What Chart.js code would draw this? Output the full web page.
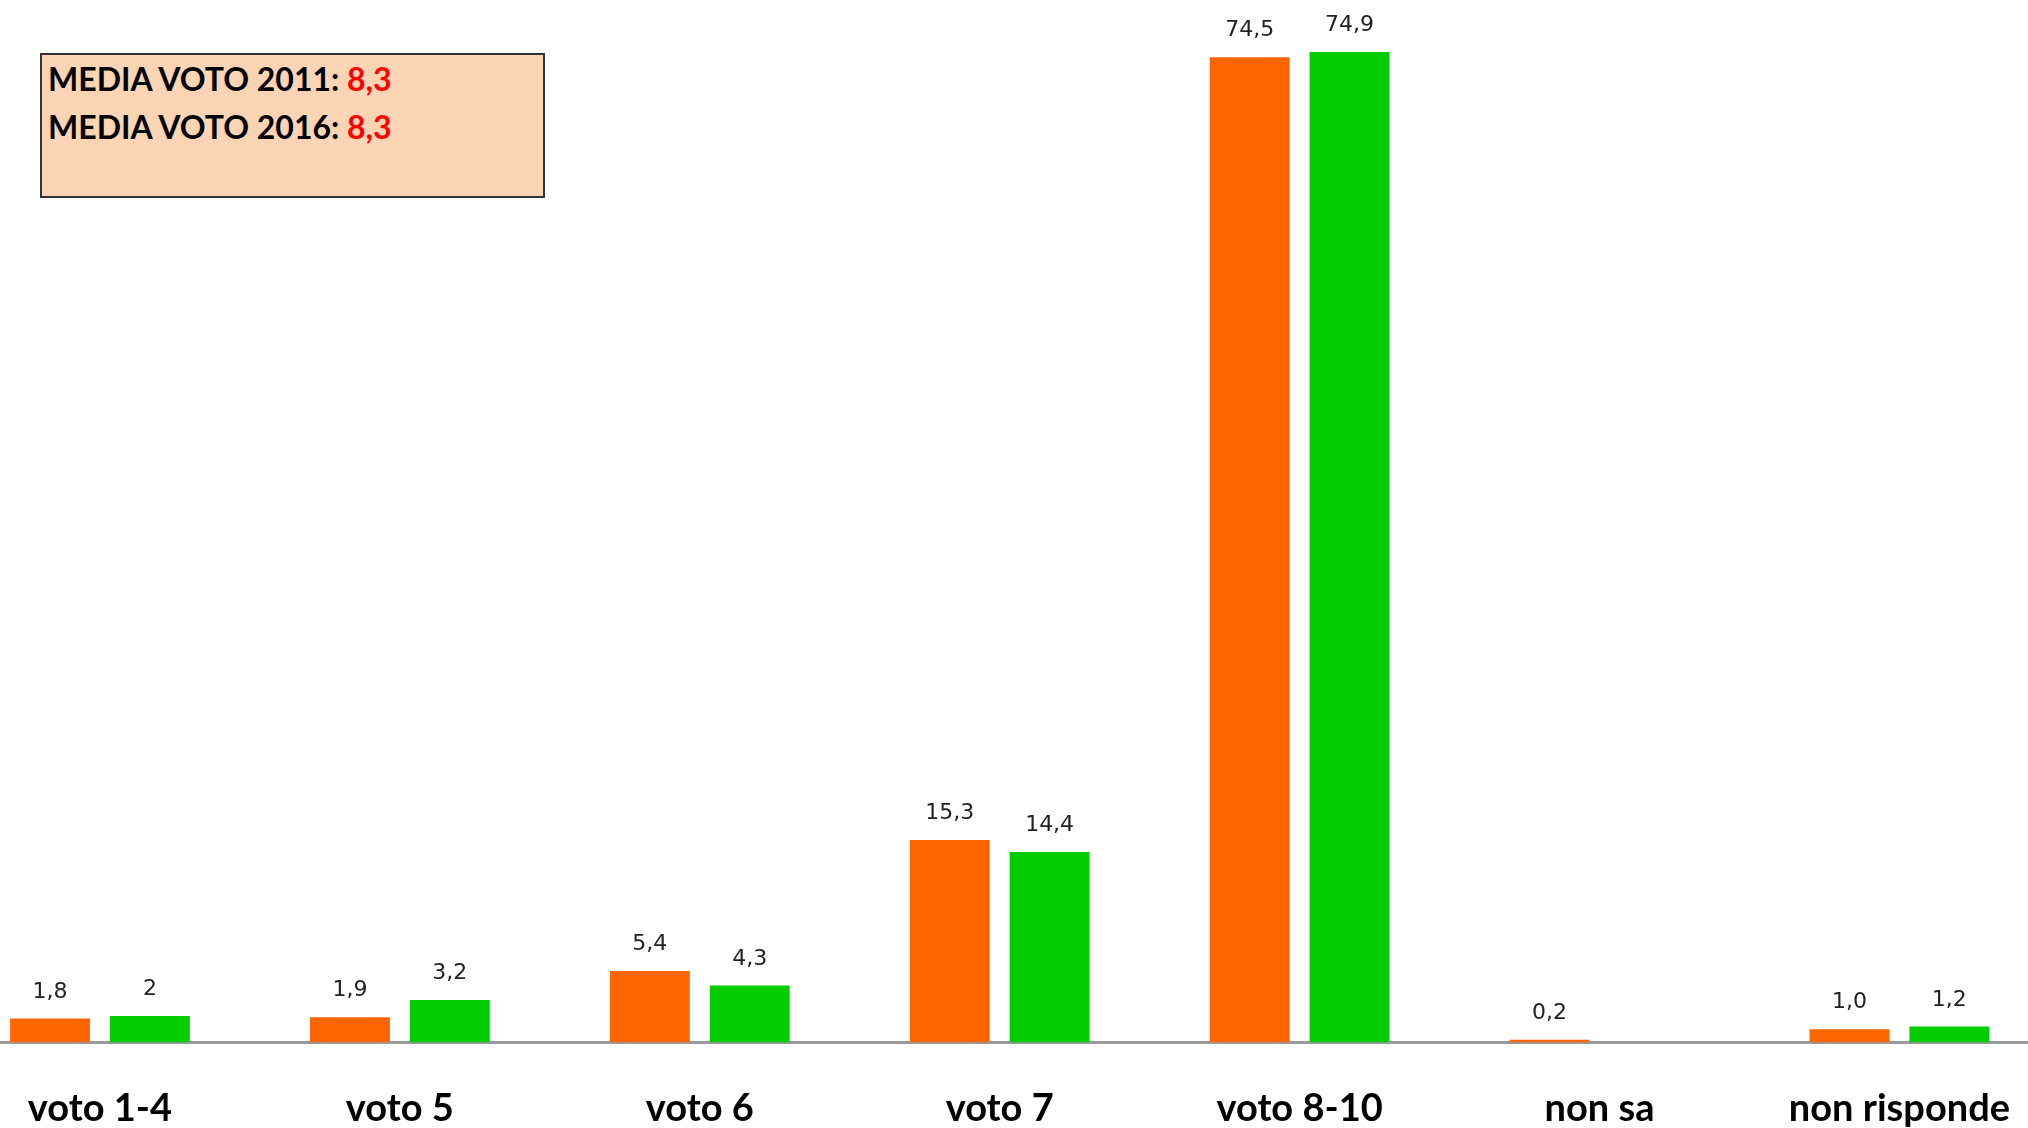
<!DOCTYPE html>
<html>
<head>
<meta charset="utf-8">
<script src="https://cdn.jsdelivr.net/npm/chart.js@4.4.1/dist/chart.umd.min.js"></script>
<style>
  html, body { margin: 0; padding: 0; background: #fff; overflow: hidden; }
  body { width: 2028px; height: 1128px; position: relative; }
  #wrap { position: absolute; left: -50px; top: 0; width: 2104px; height: 1176px; }
  #media {
    position: absolute; left: 40px; top: 53px; width: 501px; height: 141px;
    background: #FBD4B4; border: 2px solid #333;
    font-family: Lato, "Open Sans", sans-serif; font-weight: bold; font-size: 32px;
    color: #000; box-sizing: content-box;
  }
  #media div { position: absolute; left: 6px; white-space: nowrap; line-height: 1; }
  #media .v { color: #FF0000; }
</style>
</head>
<body>
<div id="wrap"><canvas id="c"></canvas></div>
<div id="media">
  <div style="top:8px">MEDIA VOTO 2011: <span class="v">8,3</span></div>
  <div style="top:56px">MEDIA VOTO 2016: <span class="v">8,3</span></div>
</div>
<script>
// Voto categories and percentage shares for the two survey years
const categories = ['voto 1-4', 'voto 5', 'voto 6', 'voto 7', 'voto 8-10', 'non sa', 'non risponde'];
const values2011 = [1.8, 1.9, 5.4, 15.3, 74.5, 0.2, 1.0];
const values2016 = [2, 3.2, 4.3, 14.4, 74.9, null, 1.2];

// Italian decimal comma; 2011 always shows one decimal
const fmt2011 = v => v.toFixed(1).replace('.', ',');
const fmt2016 = v => String(v).replace('.', ',');

const valueLabels = {
  id: 'valueLabels',
  afterDatasetsDraw(chart) {
    const ctx = chart.ctx;
    ctx.save();
    ctx.font = '22px "DejaVu Sans", Verdana, sans-serif';
    ctx.fillStyle = '#222';
    ctx.textAlign = 'center';
    ctx.textBaseline = 'alphabetic';
    chart.data.datasets.forEach((ds, di) => {
      const meta = chart.getDatasetMeta(di);
      meta.data.forEach((bar, i) => {
        const v = ds.data[i];
        if (v === null || v === undefined) return;
        ctx.fillText(ds.fmt(v), bar.x, bar.y - 21);
      });
    });
    ctx.restore();
  }
};

new Chart(document.getElementById('c'), {
  type: 'bar',
  data: {
    labels: categories,
    datasets: [
      { label: '2011', data: values2011, backgroundColor: '#FF6600', fmt: fmt2011 },
      { label: '2016', data: values2016, backgroundColor: '#00CC00', fmt: fmt2016 }
    ]
  },
  options: {
    responsive: true,
    maintainAspectRatio: false,
    animation: false,
    devicePixelRatio: 1,
    categoryPercentage: 0.666,
    barPercentage: 0.8,
    layout: { padding: { top: 11, left: 0, right: 0, bottom: 0 } },
    plugins: { legend: { display: false }, tooltip: { enabled: false } },
    scales: {
      x: {
        grid: { display: false, drawTicks: false },
        border: { display: true, color: '#9a9a9a', width: 3 },
        ticks: {
          padding: 44,
          color: '#000',
          font: { family: 'Lato, "Open Sans", sans-serif', weight: 'bold', size: 38 },
          maxRotation: 0, autoSkip: false
        }
      },
      y: { display: false, min: 0, max: 78 }
    }
  },
  plugins: [valueLabels]
});
</script>
</body>
</html>
